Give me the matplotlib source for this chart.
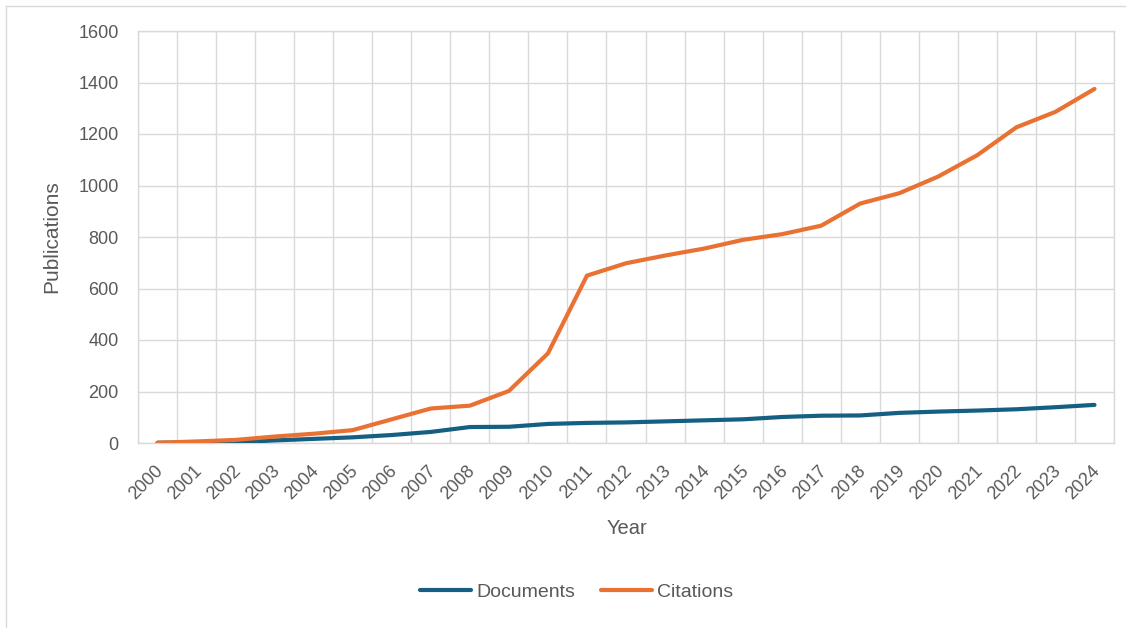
import matplotlib
matplotlib.use("Agg")
import matplotlib.pyplot as plt
from matplotlib.lines import Line2D
import matplotlib.transforms as mtransforms
import numpy as np

years = [str(y) for y in range(2000, 2025)]
documents = [1, 2, 3, 10, 16, 22, 31, 43, 62, 63, 74, 78, 80, 84, 88, 92, 101, 106, 107, 117, 122, 126, 131, 139, 148]
citations = [1, 6, 12, 25, 36, 50, 92, 134, 145, 202, 348, 650, 698, 728, 755, 789, 811, 844, 930, 970, 1035, 1118, 1226, 1286, 1375]

plt.rcParams['font.family'] = ['Liberation Sans', 'DejaVu Sans']
text_color = '#595959'
grid_color = '#D9D9D9'

fig = plt.figure(figsize=(11.35, 6.28), dpi=100)
ax = fig.add_axes([138/1135, 1-443/628, (1114-138)/1135, (443-31)/628])

x = np.arange(len(years))
l1, = ax.plot(x, documents, color='#156082', lw=3.0, solid_capstyle='round', solid_joinstyle='round', label='Documents', zorder=3)
l2, = ax.plot(x, citations, color='#E97132', lw=3.0, solid_capstyle='round', solid_joinstyle='round', label='Citations', zorder=3)

ax.set_xlim(-0.5, len(years) - 0.5)
ax.set_ylim(0, 1600)
ax.set_yticks(np.arange(0, 1601, 200))
ax.set_xticks(x)
ax.set_xticklabels(years, rotation=45, ha='right', va='top', rotation_mode='anchor')
ax.set_xticks(np.arange(-0.5, len(years), 1), minor=True)
ax.tick_params(axis='x', which='major', length=0, pad=14, labelsize=13, colors=text_color)
ax.tick_params(axis='x', which='minor', length=0)
ax.tick_params(axis='y', length=0, pad=14, labelsize=13, colors=text_color)
shift = mtransforms.ScaledTranslation(-3/100, 0, fig.dpi_scale_trans)
for lab in ax.get_xticklabels():
    lab.set_transform(lab.get_transform() + shift)
ax.grid(True, which='minor', axis='x', color=grid_color, lw=1.0)
ax.grid(True, which='major', axis='y', color=grid_color, lw=1.0)
ax.set_axisbelow(True)
for s in ax.spines.values():
    s.set_color(grid_color)
    s.set_linewidth(1.0)

ax.set_xlabel('Year', fontsize=14.5, color=text_color, va='center')
ax.xaxis.set_label_coords((627-138)/976, (443-529)/412)
ax.set_ylabel('Publications', fontsize=15, color=text_color, va='center')
ax.yaxis.set_label_coords((52-138)/976, 0.5)

leg = fig.legend(handles=[l1, l2], loc='center', bbox_to_anchor=(577/1135, 1-592/628), ncol=2,
                 frameon=False, fontsize=14, handlelength=2.6, handletextpad=0.3, columnspacing=1.3,
                 borderpad=0, borderaxespad=0)
for t in leg.get_texts():
    t.set_color(text_color)
for h in leg.get_lines():
    h.set_linewidth(3.0)
    h.set_solid_capstyle('round')

# chart area border (left and top)
fig.add_artist(Line2D([6/1135, 6/1135], [0, 1-6/628], transform=fig.transFigure, color='#D9D9D9', lw=1.0))
fig.add_artist(Line2D([6/1135, 1125/1135], [1-6/628, 1-6/628], transform=fig.transFigure, color='#D9D9D9', lw=1.0))

fig.savefig('out.png', dpi=100)
